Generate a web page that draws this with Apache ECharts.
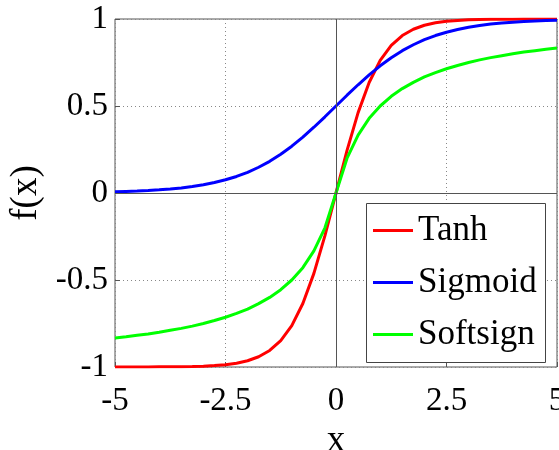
<!DOCTYPE html>
<html><head><meta charset="utf-8">
<script src="https://cdn.jsdelivr.net/npm/echarts@6/dist/echarts.min.js"></script>
<style>html,body{margin:0;padding:0;background:#fff}#c{width:559px;height:450px}</style>
</head><body><div id="c"></div>
<script>
var xs = [-5,-4.75,-4.5,-4.25,-4,-3.75,-3.5,-3.25,-3,-2.75,-2.5,-2.25,-2,-1.75,-1.5,-1.25,-1,-0.75,-0.5,-0.25,0,0.25,0.5,0.75,1,1.25,1.5,1.75,2,2.25,2.5,2.75,3,3.25,3.5,3.75,4,4.25,4.5,4.75,5];
var tanhVals = [-1.000,-1.000,-1.000,-1.000,-0.999,-0.999,-0.998,-0.997,-0.995,-0.992,-0.987,-0.978,-0.964,-0.941,-0.905,-0.848,-0.762,-0.635,-0.462,-0.245,0,0.245,0.462,0.635,0.762,0.848,0.905,0.941,0.964,0.978,0.987,0.992,0.995,0.997,0.998,0.999,0.999,1.000,1.000,1.000,1.000];
var sigmoidVals = [0.007,0.009,0.011,0.014,0.018,0.023,0.029,0.037,0.047,0.060,0.076,0.095,0.119,0.148,0.182,0.223,0.269,0.321,0.378,0.438,0.500,0.562,0.622,0.679,0.731,0.777,0.818,0.852,0.881,0.905,0.924,0.940,0.953,0.963,0.971,0.977,0.982,0.986,0.989,0.991,0.993];
var softsignVals = [-0.833,-0.826,-0.818,-0.810,-0.800,-0.789,-0.778,-0.765,-0.750,-0.733,-0.714,-0.692,-0.667,-0.636,-0.600,-0.556,-0.500,-0.429,-0.333,-0.200,0,0.200,0.333,0.429,0.500,0.556,0.600,0.636,0.667,0.692,0.714,0.733,0.750,0.765,0.778,0.789,0.800,0.810,0.818,0.826,0.833];
var seriesNames = ['Tanh','Sigmoid','Softsign'];
var seriesColors = ['#ff0000','#0000ff','#00ff00'];
var seriesVals = [tanhVals, sigmoidVals, softsignVals];

var FONT = "'Liberation Serif'";
function pairs(v){ return xs.map(function(x,i){ return [x, v[i]]; }); }

var series = seriesVals.map(function(v,i){
  return {
    name: seriesNames[i], type: 'line', data: pairs(v), showSymbol: false, symbol: 'none',
    lineStyle: {color: seriesColors[i], width: 3}, itemStyle: {color: seriesColors[i]},
    clip: true, z: 3
  };
});
series[0].markLine = {
  silent: true, symbol: 'none', label: {show: false}, animation: false,
  lineStyle: {color: '#555', width: 1, type: 'solid'},
  data: [{xAxis: 0}, {yAxis: 0}]
};

var chart = echarts.init(document.getElementById('c'), null, {renderer: 'canvas'});
chart.setOption({
  animation: false,
  backgroundColor: '#fff',
  grid: {left: 115, right: 2, top: 19, bottom: 83, outerBoundsMode: 'none', containLabel: false,
         show: true, borderColor: '#555', borderWidth: 1, backgroundColor: 'transparent'},
  graphic: [{
    type: 'rect', z: 10, silent: true,
    shape: {x: 366.5, y: 203.5, width: 179, height: 159},
    style: {fill: '#fff', stroke: '#444', lineWidth: 1}
  }],
  legend: {
    orient: 'vertical', left: 366, top: 203, z: 20,
    padding: [10, 7, 11, 7], itemGap: 17, itemWidth: 40, itemHeight: 3, icon: 'rect',
    backgroundColor: 'transparent', borderWidth: 0,
    textStyle: {fontFamily: FONT, fontSize: 35, color: '#000'},
    data: seriesNames
  },
  xAxis: {
    type: 'value', min: -5, max: 5, interval: 2.5,
    name: 'x', nameLocation: 'middle', nameGap: 53,
    nameTextStyle: {fontFamily: FONT, fontSize: 37, color: '#000'},
    axisLine: {show: false, onZero: false},
    axisTick: {show: true, inside: true, length: 5, lineStyle: {color: '#555'}},
    axisLabel: {fontFamily: FONT, fontSize: 33, color: '#000', margin: 18, formatter: function(v){ return String(v); }},
    splitLine: {show: true, lineStyle: {color: '#888', type: [1, 3], width: 1}}
  },
  yAxis: {
    type: 'value', min: -1, max: 1, interval: 0.5,
    name: 'f(x)', nameLocation: 'middle', nameGap: 68, nameRotate: 90,
    nameTextStyle: {fontFamily: FONT, fontSize: 37, color: '#000'},
    axisLine: {show: false, onZero: false},
    axisTick: {show: true, inside: true, length: 5, lineStyle: {color: '#555'}},
    axisLabel: {fontFamily: FONT, fontSize: 33, color: '#000', margin: 7, formatter: function(v){ return String(v); }},
    splitLine: {show: true, lineStyle: {color: '#888', type: [1, 3], width: 1}}
  },
  series: series
});
</script></body></html>
